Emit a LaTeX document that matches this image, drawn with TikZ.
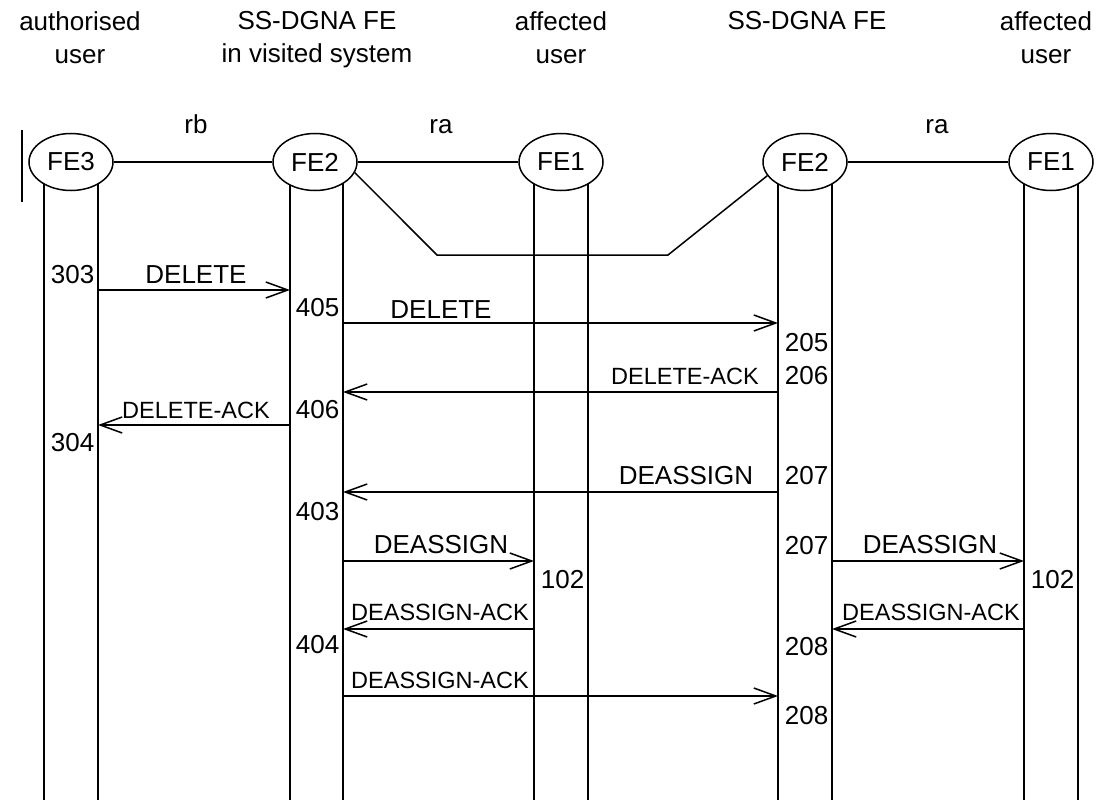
\documentclass[tikz,border=0pt]{standalone}
\usepackage{fontspec}
\setmainfont{Liberation Sans}
\usetikzlibrary{arrows.meta,shapes.geometric}

\begin{document}
\begin{tikzpicture}[x=1pt,y=-1pt,line width=1.5pt,
  fe/.style={ellipse,draw,fill=white,minimum width=84pt,minimum height=57pt,inner sep=0pt,font=\fontsize{26}{30}\selectfont},
  lbl/.style={inner sep=0pt,font=\fontsize{26}{30}\selectfont},
  acklbl/.style={inner sep=0pt,font=\fontsize{23.5}{28}\selectfont},
  num/.style={lbl,anchor=east},
  head/.style={inner sep=0pt,anchor=north,align=center,font=\fontsize{26}{33}\selectfont},
  msg/.style={-{Straight Barb[length=22pt,width=16pt]}}]
\useasboundingbox (0,0) rectangle (1109,800);

% column headings
\node[head] (hAuth) at (80,11) {authorised\\user};
\node[head] (hVis) at (317,11) {SS-DGNA FE\\in visited system};
\node[head] (hAffA) at (561,11) {affected\\user};
\node[head] (hHome) at (807,11) {SS-DGNA FE};
\node[head] (hAffB) at (1046,11) {affected\\user};

% lifelines
\foreach \n/\x in {fe3L/44,fe3R/98,fe2aL/290,fe2aR/343,fe1aL/534,fe1aR/588,fe2bL/778,fe2bR/832,fe1bL/1024,fe1bR/1078}{
  \coordinate (\n) at (\x,0);
  \draw ([yshift=-162pt]\n) -- ([yshift=-800pt]\n);
}

% functional entities
\node[fe] (fe3) at (71,162) {FE3};
\node[fe] (fe2a) at (315,162) {FE2};
\node[fe] (fe1a) at (561,162) {FE1};
\node[fe] (fe2b) at (805,162) {FE2};
\node[fe] (fe1b) at (1051,162) {FE1};

\draw (22,130) -- (22,202);
\draw (fe3) -- (fe2a);
\draw (fe2a) -- (fe1a);
\draw (fe2b) -- (fe1b);
\coordinate (bendL) at (437,255);
\coordinate (bendR) at (668,255);
\draw (fe2a.-15) -- (bendL) -- (bendR) -- (fe2b.200);

\node[lbl,anchor=base] (rb) at (196,133) {rb};
\node[lbl,anchor=base] (raA) at (441,133) {ra};
\node[lbl,anchor=base] (raB) at (937,133) {ra};

% messages
\foreach \a/\b/\y in {fe3R/fe2aL/290,fe2aR/fe2bL/323,fe2bL/fe2aR/392,fe2aL/fe3R/425,
  fe2bL/fe2aR/492,fe2aR/fe1aL/561,fe2bR/fe1bL/561,fe1aL/fe2aR/629,fe1bL/fe2bR/629,fe2aR/fe2bL/696}
  \draw[msg] ([yshift=-\y pt]\a) -- ([yshift=-\y pt]\b);

\foreach \x/\y/\t [count=\i] in {196/275/DELETE,441/310/DELETE,686/476/DEASSIGN,441/545/DEASSIGN,930/545/DEASSIGN}
  \node[lbl] (m\i) at (\x,\y) {\t};
\foreach \x/\y/\t [count=\i] in {685/376/DELETE-ACK,196/410/DELETE-ACK,440/612/DEASSIGN-ACK,931/612/DEASSIGN-ACK,440/680/DEASSIGN-ACK}
  \node[acklbl] (ack\i) at (\x,\y) {\t};

% state numbers
\foreach \x/\y/\t [count=\i] in {95/275/303,340/308/405,829/343/205,829/376/206,340/410/406,95/443/304,
  829/476/207,340/512/403,829/546/207,585/580/102,1075/580/102,340/645/404,829/647/208,829/716/208}
  \node[num] (s\i) at (\x,\y) {\t};
\end{tikzpicture}
\end{document}
